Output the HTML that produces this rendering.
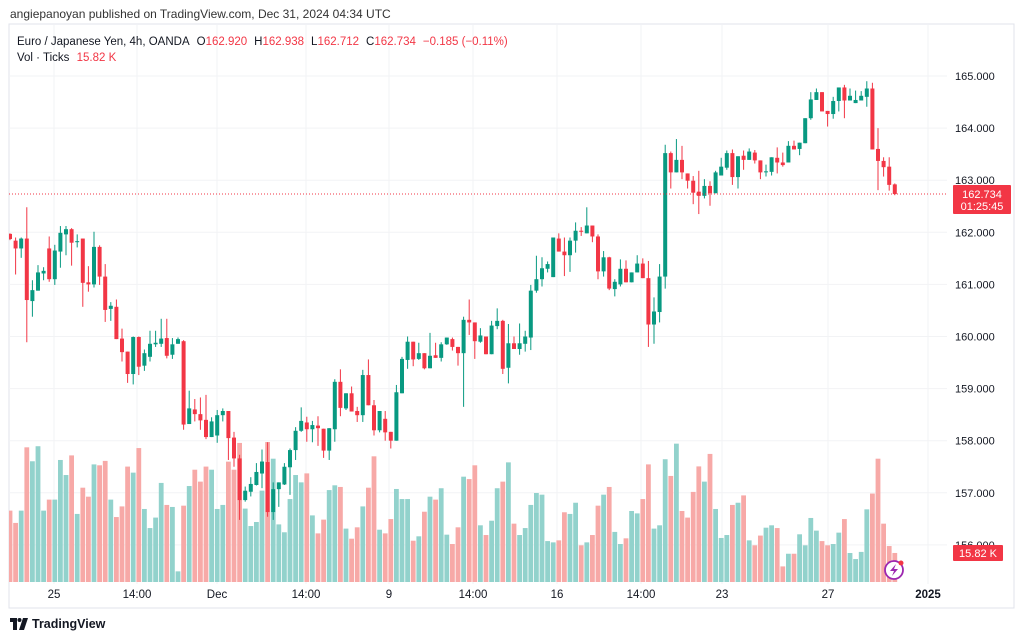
<!DOCTYPE html>
<html><head><meta charset="utf-8">
<style>
html,body{margin:0;padding:0;background:#fff;width:1024px;height:641px;overflow:hidden;font-family:"Liberation Sans",sans-serif;}
#hdr{position:absolute;left:10px;top:7px;font-size:12px;color:#333;}
#chart{position:absolute;left:0;top:0;}
#logo{position:absolute;left:10px;top:617px;font-size:12.5px;font-weight:bold;color:#131722;display:flex;align-items:center;gap:4px;}
</style></head><body>
<div id="hdr">angiepanoyan published on TradingView.com, Dec 31, 2024 04:34 UTC</div>
<svg id="chart" width="1024" height="641">
  <defs><clipPath id="plotclip"><rect x="9" y="25" width="938" height="559"/></clipPath></defs>
  <rect x="9" y="24" width="1005" height="584" fill="none" stroke="#e0e3eb"/>
  <g id="grid"></g>
  <g id="vol" clip-path="url(#plotclip)"></g>
  <g id="candles" clip-path="url(#plotclip)"></g>
  <g id="axes"></g>
  <g font-family="Liberation Sans, sans-serif" font-size="11.5">
    <text x="17" y="45" fill="#131722">Euro / Japanese Yen, 4h, OANDA<tspan dx="7" fill="#131722">O</tspan><tspan fill="#f23645">162.920</tspan><tspan dx="7" fill="#131722">H</tspan><tspan fill="#f23645">162.938</tspan><tspan dx="7" fill="#131722">L</tspan><tspan fill="#f23645">162.712</tspan><tspan dx="7" fill="#131722">C</tspan><tspan fill="#f23645">162.734</tspan><tspan dx="7" fill="#f23645">−0.185 (−0.11%)</tspan></text>
    <text x="17" y="61" fill="#131722">Vol · Ticks <tspan fill="#f23645" dx="4">15.82 K</tspan></text>
  </g>
  <g>
    <circle cx="894" cy="570" r="9" fill="#fff" stroke="#9c27b0" stroke-width="1.8"/>
    <path d="M896 564 L890 571 L894 571 L892 576 L898 569 L894 569 Z" fill="#9c27b0"/>
    <circle cx="901" cy="563" r="2.5" fill="#f23645"/>
  </g>
</svg>
<div id="logo"><svg width="18" height="12" viewBox="0 0 18 12"><path d="M0 0h7v12H3V4H0z M9 12l4-12h5l-4 12z" fill="#131722"/><circle cx="9.5" cy="2" r="2" fill="#131722"/></svg>TradingView</div>
<script>
const opens=[161.97,161.84,161.69,161.88,160.68,160.88,161.21,161.69,161.10,161.63,161.96,162.06,161.81,161.88,161.04,161.00,161.72,161.15,160.53,160.57,159.96,159.71,159.28,159.99,159.44,159.61,159.85,159.86,159.97,159.65,159.86,159.91,158.32,158.60,158.51,158.40,158.07,158.10,158.49,158.57,158.06,157.66,156.86,157.02,157.15,157.37,157.59,156.63,157.07,157.16,157.49,157.82,158.19,158.35,158.22,158.29,158.23,157.81,158.22,159.13,158.62,158.91,158.57,158.49,159.26,158.68,158.20,158.42,158.17,158.00,158.91,159.55,159.90,159.57,159.68,159.39,159.64,159.59,159.85,159.95,159.80,159.68,160.32,160.27,159.90,160.00,159.66,160.20,160.30,159.40,159.87,159.76,159.86,159.98,160.88,161.10,161.30,161.14,161.88,161.63,161.56,161.84,162.03,161.98,162.13,161.92,161.25,161.52,160.91,161.00,161.30,161.04,161.23,161.40,161.12,160.23,160.47,161.15,163.52,163.15,163.39,163.13,162.99,162.78,162.70,162.89,162.75,163.09,163.24,163.52,163.06,163.47,163.39,163.53,163.38,163.16,163.16,163.43,163.34,163.34,163.66,163.60,163.71,164.19,164.54,164.69,164.33,164.27,164.52,164.78,164.53,164.48,164.53,164.60,164.76,163.60,163.37,163.26,162.920];
const highs=[161.98,161.90,161.90,162.48,161.08,161.37,161.33,161.92,161.76,162.12,162.12,162.08,161.96,161.88,161.35,162.01,161.75,161.39,160.66,160.71,160.15,159.71,160.00,160.00,159.75,160.11,160.11,160.34,160.34,159.97,159.98,159.93,158.96,158.80,158.83,158.88,158.45,158.59,158.62,158.57,158.17,157.73,157.12,157.30,157.57,157.83,157.97,157.20,157.20,157.57,157.85,158.26,158.64,158.46,158.38,158.47,158.23,158.24,159.18,159.37,158.91,159.04,158.65,159.36,159.56,158.78,158.57,158.57,158.17,159.07,159.61,160.00,159.90,159.88,159.68,160.07,159.88,159.89,159.98,159.98,159.80,160.38,160.71,160.27,160.16,160.00,160.30,160.54,160.32,160.24,160.00,160.25,160.11,160.99,161.55,161.52,161.44,161.90,161.98,161.90,161.90,162.19,162.10,162.48,162.13,161.96,161.64,161.53,161.10,161.48,161.46,161.23,161.56,161.50,161.45,160.75,161.39,163.68,163.55,163.79,163.66,163.13,163.08,163.18,163.02,162.98,163.18,163.43,163.57,163.59,163.46,163.57,163.61,163.58,163.38,163.30,163.44,163.63,163.53,163.75,163.76,163.72,164.19,164.69,164.76,164.69,164.33,164.60,164.78,164.83,164.76,164.72,164.71,164.90,164.87,164.00,163.44,163.44,162.938];
const lows=[161.85,161.19,161.51,159.89,160.38,160.88,161.08,161.05,160.99,161.32,161.56,161.36,161.71,160.57,160.86,160.94,160.99,160.28,160.30,159.95,159.52,159.11,159.08,159.26,159.34,159.52,159.80,159.80,159.58,159.57,159.86,158.21,158.32,158.37,158.21,158.03,158.07,157.96,158.37,157.63,157.50,156.48,156.83,156.93,157.14,157.09,156.54,156.48,156.73,157.15,156.96,157.63,158.17,157.98,157.97,157.90,157.67,157.63,157.98,158.47,158.59,158.56,158.36,158.36,158.68,158.10,158.16,158.00,157.85,158.00,158.91,159.38,159.43,159.55,159.37,159.39,159.59,159.52,159.84,159.73,159.44,158.65,160.03,159.57,159.88,159.66,159.66,160.14,159.28,159.10,159.76,159.65,159.71,159.74,160.84,160.96,161.23,161.14,161.63,161.16,161.24,161.61,161.93,161.98,161.81,161.10,161.15,160.89,160.77,160.96,161.04,161.04,161.23,161.12,159.80,159.86,160.27,160.92,162.84,163.15,163.02,162.84,162.54,162.35,162.65,162.51,162.75,163.09,163.20,162.91,162.84,163.20,163.39,163.32,163.02,163.07,163.09,163.13,163.26,163.34,163.59,163.48,163.71,164.16,164.54,164.32,164.03,164.18,164.32,164.19,164.53,164.48,164.53,164.41,163.59,162.81,163.07,162.80,162.712];
const closes=[161.87,161.69,161.88,160.70,160.89,161.23,161.26,161.10,161.65,161.99,162.06,161.80,161.83,161.03,161.00,161.72,161.15,160.51,160.59,159.95,159.70,159.28,159.99,159.42,159.68,159.86,159.88,159.96,159.63,159.85,159.95,158.31,158.62,158.51,158.39,158.07,158.37,158.49,158.57,158.05,157.66,156.86,157.04,157.17,157.40,157.60,156.63,157.07,157.20,157.50,157.82,158.19,158.38,158.22,158.30,158.24,157.81,158.24,159.13,158.63,158.91,158.56,158.49,159.26,158.68,158.20,158.57,158.16,158.00,158.93,159.57,159.90,159.56,159.68,159.39,159.63,159.59,159.85,159.98,159.80,159.68,160.32,160.27,159.91,160.02,159.66,160.21,160.30,159.38,159.87,159.76,159.87,160.00,160.88,161.10,161.31,161.39,161.90,161.63,161.56,161.84,162.03,162.01,162.13,161.92,161.25,161.52,160.92,161.05,161.30,161.04,161.23,161.40,161.12,160.23,160.48,161.15,163.52,163.15,163.39,163.15,162.99,162.76,162.70,162.89,162.75,163.15,163.26,163.52,163.06,163.46,163.39,163.55,163.38,163.15,163.17,163.44,163.34,163.29,163.66,163.59,163.72,164.19,164.55,164.69,164.32,164.27,164.52,164.78,164.53,164.62,164.54,164.62,164.76,163.59,163.37,163.25,162.91,162.734];
const volumes=[38.9,32.2,38.9,73.4,65.8,74.0,38.9,44.9,44.9,66.5,58.3,69.0,37.1,51.4,46.5,64.1,63.6,66.0,44.9,35.4,41.2,62.9,59.6,73.0,39.8,29.4,35.1,54.0,42.0,40.9,5.8,41.6,52.3,61.2,54.7,62.9,61.2,39.8,42.0,65.6,61.2,75.8,40.0,30.5,32.7,49.8,76.3,67.2,31.4,27.1,45.2,58.3,54.3,59.2,36.3,26.5,34.0,50.1,52.7,51.8,29.1,23.6,29.8,41.2,51.4,68.5,28.5,26.5,34.3,50.7,45.2,45.2,22.5,24.9,38.3,46.5,44.9,51.1,25.8,20.7,29.8,57.4,56.1,63.6,30.9,25.6,33.4,51.1,54.7,65.2,31.8,25.6,29.4,42.0,48.5,47.6,22.3,21.6,22.7,38.0,37.1,43.2,20.0,21.6,25.6,41.6,47.6,51.8,27.3,20.7,23.8,38.7,37.4,45.2,64.1,29.1,30.9,66.9,57.8,75.4,38.7,35.1,49.1,63.0,54.7,69.8,39.8,24.0,25.6,42.0,43.2,47.2,22.7,20.0,25.3,29.6,30.9,29.4,8.5,15.4,15.4,26.0,20.0,34.9,28.0,22.3,20.0,20.7,26.9,34.3,15.8,12.5,16.4,39.6,48.2,67.2,31.8,19.6,15.82];
const priceTicks=[165,164,163,162,161,160,159,158,157,156];
const timeLabels=["25","14:00","Dec","14:00","9","14:00","16","14:00","23","27","2025"];
const timeLabelX=[54,137,217,306,389,473,557,641,722,828,928];
const lastPrice=162.734, lastVolLabel="15.82 K", countdown="01:25:45";

const NS="http://www.w3.org/2000/svg";
const yP=p=>76+(165-p)*52.1;
const yV=v=>582-v/0.545;
const xI=i=>10+i*5.6;
function mk(tag,attrs,parent){const e=document.createElementNS(NS,tag);for(const k in attrs)e.setAttribute(k,attrs[k]);parent.appendChild(e);return e;}
const G=document.getElementById('grid'),V=document.getElementById('vol'),C=document.getElementById('candles'),A=document.getElementById('axes');

priceTicks.forEach(p=>{
  const l=mk('line',{x1:9,x2:947,y1:yP(p),y2:yP(p),stroke:'#f2f3f5'},G);
  
  
  const t=mk('text',{x:955,y:yP(p)+4,'font-size':11,fill:'#131722','font-family':'Liberation Sans, sans-serif'},A);
  t.textContent=p.toFixed(3);
  
  
});
timeLabels.forEach((s,i)=>{
  const l=mk('line',{x1:timeLabelX[i],x2:timeLabelX[i],y1:25,y2:584,stroke:'#f2f3f5'},G);
  
  
  const t=mk('text',{x:timeLabelX[i],y:598,'font-size':11.5,fill:'#131722','text-anchor':'middle','font-family':'Liberation Sans, sans-serif','font-weight':(s==='2025'?'bold':'normal')},A);
  t.textContent=s;
  
  
});

volumes.forEach((v,i)=>{
  const up=closes[i]>=opens[i];
  const r=mk('rect',{x:xI(i)-2.4,y:yV(v),width:4.8,height:582-yV(v),fill:up?'#92d2cc':'#f7a9a7'},V);
  
  
});
opens.forEach((o,i)=>{
  const c=closes[i],up=c>=o,col=up?'#089981':'#f23645',x=xI(i);
  const w=mk('line',{x1:x,x2:x,y1:yP(highs[i]),y2:yP(lows[i]),stroke:col,'stroke-width':1},C);
  
  
  const top=yP(Math.max(o,c)),bot=yP(Math.min(o,c));
  const b=mk('rect',{x:x-2,y:top,width:4,height:Math.max(1,bot-top),fill:col},C);
  
  
});
const pl=mk('line',{x1:9,x2:947,y1:yP(lastPrice),y2:yP(lastPrice),stroke:'#f23645','stroke-dasharray':'1 2','stroke-width':1},C);


const bx=mk('rect',{x:953,y:yP(lastPrice)-9,width:58,height:29,fill:'#f23645',rx:1},A);


const t1=mk('text',{x:982,y:yP(lastPrice)+4,'font-size':11,fill:'#fff','text-anchor':'middle','font-family':'Liberation Sans, sans-serif'},A);
t1.textContent=lastPrice.toFixed(3);


const t2=mk('text',{x:982,y:yP(lastPrice)+16,'font-size':11,fill:'#fff','text-anchor':'middle','font-family':'Liberation Sans, sans-serif'},A);
t2.textContent=countdown;


const lastV=volumes[volumes.length-1];
const vb=mk('rect',{x:953,y:yV(lastV)-8,width:50,height:16,fill:'#f23645',rx:1},A);


const vt=mk('text',{x:978,y:yV(lastV)+4,'font-size':11,fill:'#fff','text-anchor':'middle','font-family':'Liberation Sans, sans-serif'},A);
vt.textContent=lastVolLabel;


</script>
</body></html>
